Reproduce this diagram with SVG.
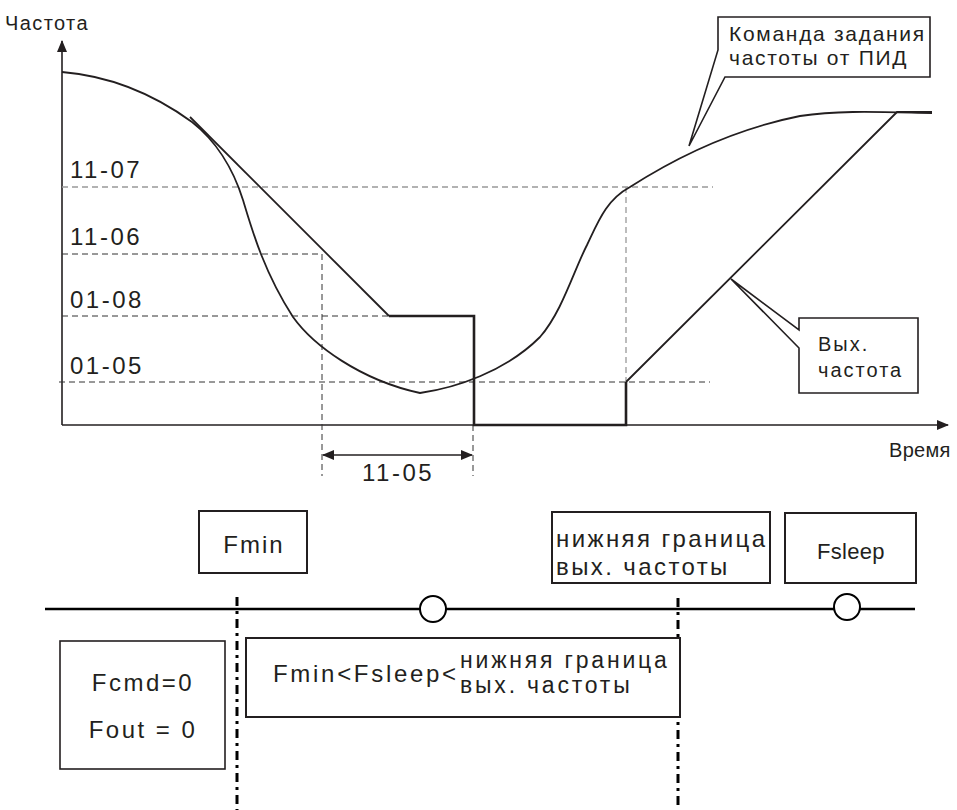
<svg xmlns="http://www.w3.org/2000/svg" width="957" height="810" viewBox="0 0 957 810">
<style>
text{font-family:"Liberation Sans",Arial,sans-serif;fill:#231f20;}
.lbl{font-size:24px;letter-spacing:2.5px;}
.t20{font-size:20px;letter-spacing:1.4px;}
.t21{font-size:21px;letter-spacing:1.7px;}
.ax{stroke:#231f20;stroke-width:1.6;fill:none;}
.dk{stroke:#333;stroke-width:1;stroke-dasharray:6 4;fill:none;}
.gr{stroke:#999;stroke-width:1.3;stroke-dasharray:6 4;fill:none;}
.crv{stroke:#231f20;stroke-width:1.8;fill:none;}
.box{stroke:#231f20;stroke-width:1.6;fill:#fff;}
.bx2{stroke:#231f20;stroke-width:2;fill:#fff;}
.dd{stroke:#000;stroke-width:3;stroke-dasharray:9 5 3 5;fill:none;}
</style>
<defs>
<marker id="ah" viewBox="0 0 12 10" refX="11" refY="5" markerWidth="12" markerHeight="10" markerUnits="userSpaceOnUse" orient="auto-start-reverse">
<path d="M0,0 L12,5 L0,10 Z" fill="#231f20"/>
</marker>
</defs>
<g id="axes">
<line class="ax" x1="62" y1="425" x2="62" y2="41" marker-end="url(#ah)"/>
<line class="ax" x1="62" y1="425" x2="948" y2="425" marker-end="url(#ah)"/>
<text class="t20" x="5" y="30">Частота</text>
<text class="t20" x="889" y="457" style="letter-spacing:0.3px">Время</text>
</g>
<g id="levels">
<line class="gr" x1="62" y1="187" x2="713" y2="187"/>
<line class="dk" x1="62" y1="254" x2="322" y2="254"/>
<line class="dk" x1="62" y1="316" x2="389" y2="316"/>
<line class="dk" x1="59" y1="382" x2="710" y2="382"/>
<line class="dk" x1="322" y1="254" x2="322" y2="476"/>
<line class="dk" x1="473" y1="425" x2="473" y2="476"/>
<line class="gr" x1="626" y1="187" x2="626" y2="382"/>
<text class="lbl" x="70" y="178">11-07</text>
<text class="lbl" x="70" y="245">11-06</text>
<text class="lbl" x="70" y="308">01-08</text>
<text class="lbl" x="70" y="374">01-05</text>
</g>
<g id="dim-11-05">
<line class="ax" x1="323" y1="455" x2="472" y2="455" marker-start="url(#ah)" marker-end="url(#ah)"/>
<text class="lbl" x="362" y="481">11-05</text>
</g>
<g id="pid-curve">
<path class="crv" d="M62,72 C110,76 155,95 192,122 C215,140 233,168 243,200 C252,230 264,272 293,317 C313,345 360,380 420,393 C455,388 505,372 540,337 C562,312 574,270 587,245 C598,222 606,200 630,187 C672,160 730,130 800,116 C840,110 880,112 932,113"/>
</g>
<g id="output-freq">
<polyline class="crv" points="190,117 389,316"/>
<polyline fill="none" stroke="#231f20" stroke-width="2.6" points="389,316 474,316 474,425 626,425 626,382"/>
<polyline class="crv" points="626,382 897,112 932,112"/>
</g>
<g id="callout-pid">
<path class="box" d="M718,17 L930,17 L930,77 L725,77 L689,146 L718,50 Z"/>
<text class="t21" x="729" y="41">Команда задания</text>
<text class="t21" x="729" y="65">частоты от ПИД</text>
</g>
<g id="callout-out">
<path class="box" d="M799,318 L918,318 L918,393 L799,393 L799,348 L731,279 L799,330 Z"/>
<text class="t20" x="818" y="351" style="letter-spacing:2px">Вых.</text>
<text class="t20" x="818" y="377" style="letter-spacing:2px">частота</text>
</g>
<g id="timeline">
<line x1="45" y1="609" x2="915" y2="609" stroke="#000" stroke-width="2.5"/>
<line class="dd" x1="237" y1="597" x2="237" y2="810"/>
<line class="dd" x1="678" y1="598" x2="678" y2="806"/>
<circle cx="433" cy="609" r="13" fill="#fff" stroke="#000" stroke-width="2"/>
<circle cx="847" cy="607" r="13" fill="#fff" stroke="#000" stroke-width="2"/>
</g>
<g id="fmin">
<rect class="bx2" x="199" y="511" width="108" height="62"/>
<text class="lbl" x="254" y="553" text-anchor="middle" style="letter-spacing:2px">Fmin</text>
</g>
<g id="lower-limit">
<rect class="bx2" x="552" y="512" width="218" height="71"/>
<text class="lbl" x="556" y="547" style="letter-spacing:2.4px">нижняя граница</text>
<text class="lbl" x="556" y="575" style="letter-spacing:2.4px">вых. частоты</text>
</g>
<g id="fsleep">
<rect class="bx2" x="785" y="513" width="131" height="70"/>
<text class="lbl" x="851" y="559" text-anchor="middle" style="font-size:22px;letter-spacing:0.3px">Fsleep</text>
</g>
<g id="fcmd">
<rect class="box" x="60" y="641" width="165" height="128"/>
<text class="lbl" x="143" y="691" text-anchor="middle">Fcmd=0</text>
<text class="lbl" x="143" y="738" text-anchor="middle">Fout = 0</text>
</g>
<g id="condition">
<rect class="bx2" x="246" y="638" width="434" height="79"/>
<text class="lbl" x="273" y="682" style="letter-spacing:2.7px">Fmin&lt;Fsleep&lt;</text>
<text class="lbl" x="460" y="668" style="font-size:23px;letter-spacing:2.8px">нижняя граница</text>
<text class="lbl" x="460" y="693" style="font-size:23px;letter-spacing:2.8px">вых. частоты</text>
</g>
</svg>
